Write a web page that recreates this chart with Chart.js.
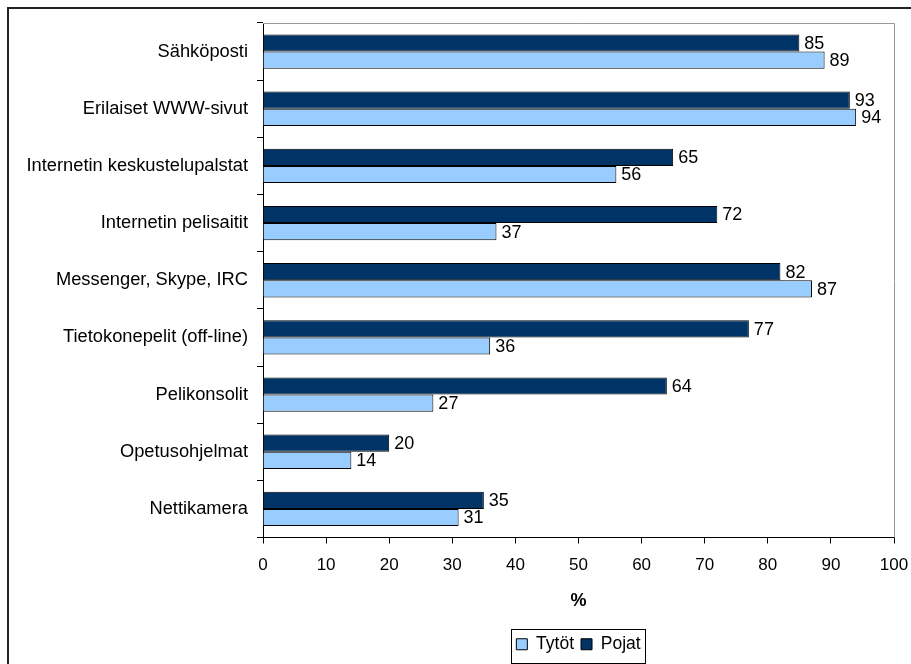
<!DOCTYPE html>
<html>
<head>
<meta charset="utf-8">
<script src="https://cdn.jsdelivr.net/npm/chart.js@4/dist/chart.umd.min.js"></script>
<style>
  html, body { margin: 0; padding: 0; background: #fff; }
  #wrap { width: 911px; height: 664px; position: relative; }
</style>
</head>
<body>
<div id="wrap"><canvas id="c" width="911" height="664"></canvas></div>
<script>
// Internet and computer use by pupils, per cent
const categories = [
  'Sähköposti',
  'Erilaiset WWW-sivut',
  'Internetin keskustelupalstat',
  'Internetin pelisaitit',
  'Messenger, Skype, IRC',
  'Tietokonepelit (off-line)',
  'Pelikonsolit',
  'Opetusohjelmat',
  'Nettikamera'
];
const pojat = [85, 93, 65, 72, 82, 77, 64, 20, 35];
const tytot = [89, 94, 56, 37, 87, 36, 27, 14, 31];
const axisMin = 0;
const axisMax = 100;
const axisStep = 10;
const axisTitle = '%';

const FONT = 'Liberation Sans, Arial, sans-serif';

// Value labels at the end of each bar, frame lines and legend box
const decorations = {
  id: 'decorations',
  afterDatasetsDraw(chart) {
    const ctx = chart.ctx;
    ctx.save();
    ctx.font = '18px ' + FONT;
    ctx.fillStyle = '#000';
    ctx.textAlign = 'left';
    ctx.textBaseline = 'middle';
    chart.data.datasets.forEach((ds, i) => {
      const meta = chart.getDatasetMeta(i);
      meta.data.forEach((bar, j) => {
        ctx.fillText(String(ds.data[j]), bar.x + 5, bar.y + 1);
      });
    });
    ctx.restore();
  },
  afterDraw(chart) {
    const ctx = chart.ctx;
    const a = chart.chartArea;
    ctx.save();
    // plot area border (top and right)
    ctx.strokeStyle = '#999';
    ctx.lineWidth = 1;
    ctx.beginPath();
    ctx.moveTo(a.left, a.top + 0.5);
    ctx.lineTo(a.right + 0.5, a.top + 0.5);
    ctx.lineTo(a.right + 0.5, a.bottom);
    ctx.stroke();
    // outer chart frame
    ctx.strokeStyle = '#222';
    ctx.lineWidth = 2;
    ctx.beginPath();
    ctx.moveTo(8, chart.height + 2);
    ctx.lineTo(8, 8);
    ctx.lineTo(chart.width + 2, 8);
    ctx.stroke();
    // legend border
    const lg = chart.legend;
    if (lg && lg.legendHitBoxes && lg.legendHitBoxes.length) {
      let l = Infinity, r = -Infinity;
      lg.legendHitBoxes.forEach(h => { l = Math.min(l, h.left); r = Math.max(r, h.left + h.width); });
      ctx.strokeStyle = '#000';
      ctx.lineWidth = 1;
      ctx.strokeRect(Math.round(l - 5) + 0.5, Math.round(lg.top) + 0.5, Math.round(r - l + 10), Math.round(lg.height) - 1);
    }
    ctx.restore();
  }
};

new Chart(document.getElementById('c'), {
  type: 'bar',
  data: {
    labels: categories,
    datasets: [
      {
        label: 'Pojat',
        data: pojat,
        backgroundColor: '#003366',
        borderColor: '#000',
        borderWidth: 1,
        barPercentage: 1,
        categoryPercentage: 0.6
      },
      {
        label: 'Tytöt',
        data: tytot,
        backgroundColor: '#99CCFF',
        borderColor: '#000',
        borderWidth: 1,
        barPercentage: 1,
        categoryPercentage: 0.6
      }
    ]
  },
  options: {
    indexAxis: 'y',
    responsive: false,
    animation: false,
    devicePixelRatio: 1,
    layout: { padding: { left: 0, top: 23, right: 17, bottom: 1 } },
    plugins: {
      legend: {
        position: 'bottom',
        fullSize: false,
        reverse: true,
        labels: {
          font: { family: FONT, size: 17.5 },
          color: '#000',
          boxWidth: 11,
          boxHeight: 11,
          padding: 7
        }
      },
      tooltip: { enabled: false }
    },
    scales: {
      x: {
        min: axisMin,
        max: axisMax,
        ticks: { stepSize: axisStep, color: '#000', font: { family: FONT, size: 17 }, padding: 12, maxRotation: 0 },
        grid: { drawOnChartArea: false, drawTicks: true, tickLength: 6, color: '#000' },
        border: { color: '#000', width: 1 },
        title: {
          display: true,
          text: axisTitle,
          color: '#000',
          font: { family: FONT, size: 18, weight: 'bold' },
          padding: { top: 4, bottom: 17 }
        },
        afterFit(scale) {
          scale.height = 91;
          scale.paddingRight = 0;
          scale.paddingLeft = 0;
        }
      },
      y: {
        ticks: { color: '#000', font: { family: FONT, size: 18.3 }, padding: 9 },
        grid: { offset: true, drawOnChartArea: false, drawTicks: true, tickLength: 6, color: '#000' },
        border: { color: '#000', width: 1 },
        afterFit(scale) {
          scale.width = 263;
          scale.paddingTop = 0;
          scale.paddingBottom = 0;
        }
      }
    }
  },
  plugins: [decorations]
});
</script>
</body>
</html>
